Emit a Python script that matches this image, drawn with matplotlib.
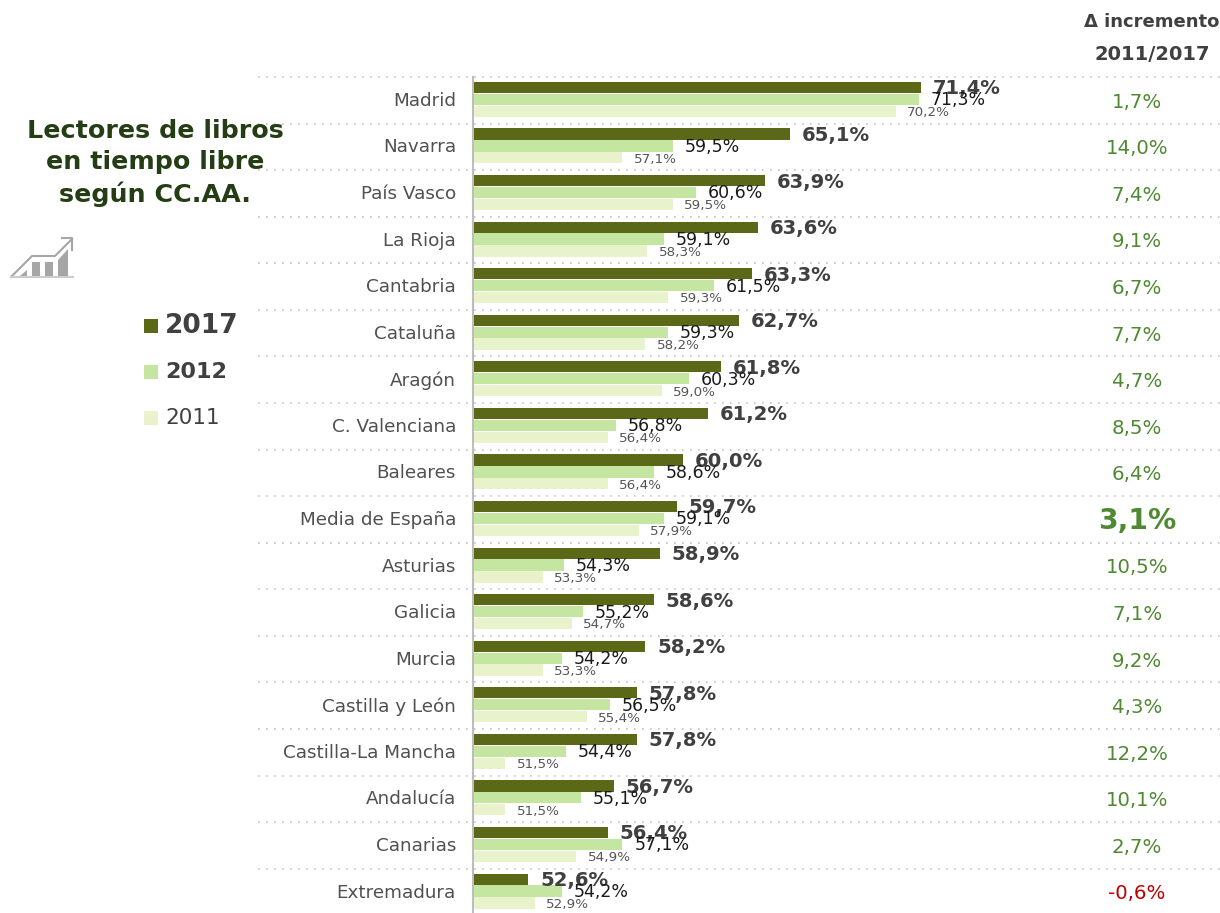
import matplotlib
matplotlib.use("Agg")
import matplotlib.pyplot as plt
from matplotlib.patches import Polygon, Rectangle

plt.rcParams['font.family'] = ['DejaVu Sans']

# datos
regions = ["Madrid", "Navarra", "País Vasco", "La Rioja", "Cantabria", "Cataluña",
           "Aragón", "C. Valenciana", "Baleares", "Media de España", "Asturias",
           "Galicia", "Murcia", "Castilla y León", "Castilla-La Mancha", "Andalucía",
           "Canarias", "Extremadura"]
v2017 = [71.4, 65.1, 63.9, 63.6, 63.3, 62.7, 61.8, 61.2, 60.0, 59.7, 58.9, 58.6, 58.2, 57.8, 57.8, 56.7, 56.4, 52.6]
v2012 = [71.3, 59.5, 60.6, 59.1, 61.5, 59.3, 60.3, 56.8, 58.6, 59.1, 54.3, 55.2, 54.2, 56.5, 54.4, 55.1, 57.1, 54.2]
v2011 = [70.2, 57.1, 59.5, 58.3, 59.3, 58.2, 59.0, 56.4, 56.4, 57.9, 53.3, 54.7, 53.3, 55.4, 51.5, 51.5, 54.9, 52.9]
increments = [1.7, 14.0, 7.4, 9.1, 6.7, 7.7, 4.7, 8.5, 6.4, 3.1, 10.5, 7.1, 9.2, 4.3, 12.2, 10.1, 2.7, -0.6]

W, H = 1220, 913
C17, C12, C11 = "#5a6818", "#c5e6a0", "#e8f3cc"
TXT = "#404040"
ROW = 46.57
TOP = 77

def pct(v):
    return f"{v:.1f}%".replace(".", ",")

fig = plt.figure(figsize=(W / 100, H / 100), dpi=100)

# capa en pixeles para textos y lineas
pix = fig.add_axes([0, 0, 1, 1])
pix.set_xlim(0, W)
pix.set_ylim(H, 0)
pix.axis("off")

# eje principal: 20.9 px por punto, empieza en 50
ax = fig.add_axes([474 / W, 0, (W - 474) / W, (H - TOP) / H])
ax.patch.set_alpha(0)
ax.set_xlim(50, 50 + (W - 474) / 20.9)
ax.set_ylim((H - TOP) / ROW - 0.5, -0.5)
for s in ax.spines.values():
    s.set_visible(False)
ax.set_xticks([])
ax.set_yticks([i - 0.03 for i in range(len(regions))])
ax.set_yticklabels(regions, fontsize=13.2, color="#505050")
ax.tick_params(axis="y", length=0, pad=13)

step = 0.255
h = 0.24
for i in range(len(regions)):
    c = i - 0.02
    ax.barh(c - step, v2017[i] - 50, left=50, height=h, color=C17, edgecolor="none")
    ax.barh(c, v2012[i] - 50, left=50, height=h, color=C12, edgecolor="none")
    ax.barh(c + step, v2011[i] - 50, left=50, height=h, color=C11, edgecolor="none")
    ax.annotate(pct(v2017[i]), (v2017[i], c - step), xytext=(8.5, -1), textcoords="offset points",
                va="center", fontsize=14.1, fontweight="bold", color=TXT)
    ax.annotate(pct(v2012[i]), (v2012[i], c), xytext=(8.5, -0.7), textcoords="offset points",
                va="center", fontsize=12.5, color="#1a1a1a")
    ax.annotate(pct(v2011[i]), (v2011[i], c + step), xytext=(8, -1), textcoords="offset points",
                va="center", fontsize=9.7, color="#555555")
    # columna de incremento
    y = TOP + ROW * (i + 0.5) + 2
    col = "#c00000" if increments[i] < 0 else "#4f8a33"
    if regions[i] == "Media de España":
        pix.text(1137, y, pct(increments[i]), ha="center", va="center", fontsize=20.3, fontweight="bold", color=col)
    else:
        pix.text(1137, y, pct(increments[i]), ha="center", va="center", fontsize=14.2, color=col)

# lineas punteadas y eje vertical
for i in range(len(regions)):
    y = TOP + ROW * i
    pix.plot([258, W], [y, y], color="#c4c4c4", lw=1.2, dashes=(1, 3.8), zorder=1)
pix.plot([473, 473], [TOP, H], color="#bdbdbd", lw=1.5, zorder=1)

# cabecera
pix.text(1152, 22, "Δ incremento", ha="center", va="center", fontsize=13, fontweight="bold", color=TXT)
pix.text(1152, 55, "2011/2017", ha="center", va="center", fontsize=14, fontweight="bold", color=TXT)

# titulo
for y, line in zip([131, 162, 194], ["Lectores de libros", "en tiempo libre", "según CC.AA."]):
    pix.text(155, y, line, ha="center", va="center", fontsize=18.3, fontweight="bold", color="#253d15")

# leyenda
pix.add_patch(Rectangle((144, 319), 14, 14, color=C17, lw=0))
pix.add_patch(Rectangle((144, 365), 14, 14, color=C12, lw=0))
pix.add_patch(Rectangle((144, 411), 14, 14, color=C11, lw=0))
pix.text(165, 326, "2017", va="center", fontsize=19, fontweight="bold", color=TXT)
pix.text(165, 372, "2012", va="center", fontsize=16, fontweight="bold", color=TXT)
pix.text(165, 418, "2011", va="center", fontsize=15.5, color=TXT)

# icono
gris = "#a6a6a6"
pix.plot([11, 32, 55, 72], [277, 256, 256, 239], color=gris, lw=1.5)
pix.plot([62, 72, 72], [238, 238, 250], color=gris, lw=1.5)
pix.plot([11, 73], [277, 277], color="#cccccc", lw=1.5)
pix.add_patch(Polygon([[20, 276], [27, 270], [27, 276]], color=gris, lw=0))
pix.add_patch(Rectangle((32, 262), 8, 14, color=gris, lw=0))
pix.add_patch(Rectangle((45, 262), 8, 14, color=gris, lw=0))
pix.add_patch(Polygon([[58, 260], [68, 249], [68, 276], [58, 276]], color=gris, lw=0))

fig.savefig("out.png", dpi=100)
